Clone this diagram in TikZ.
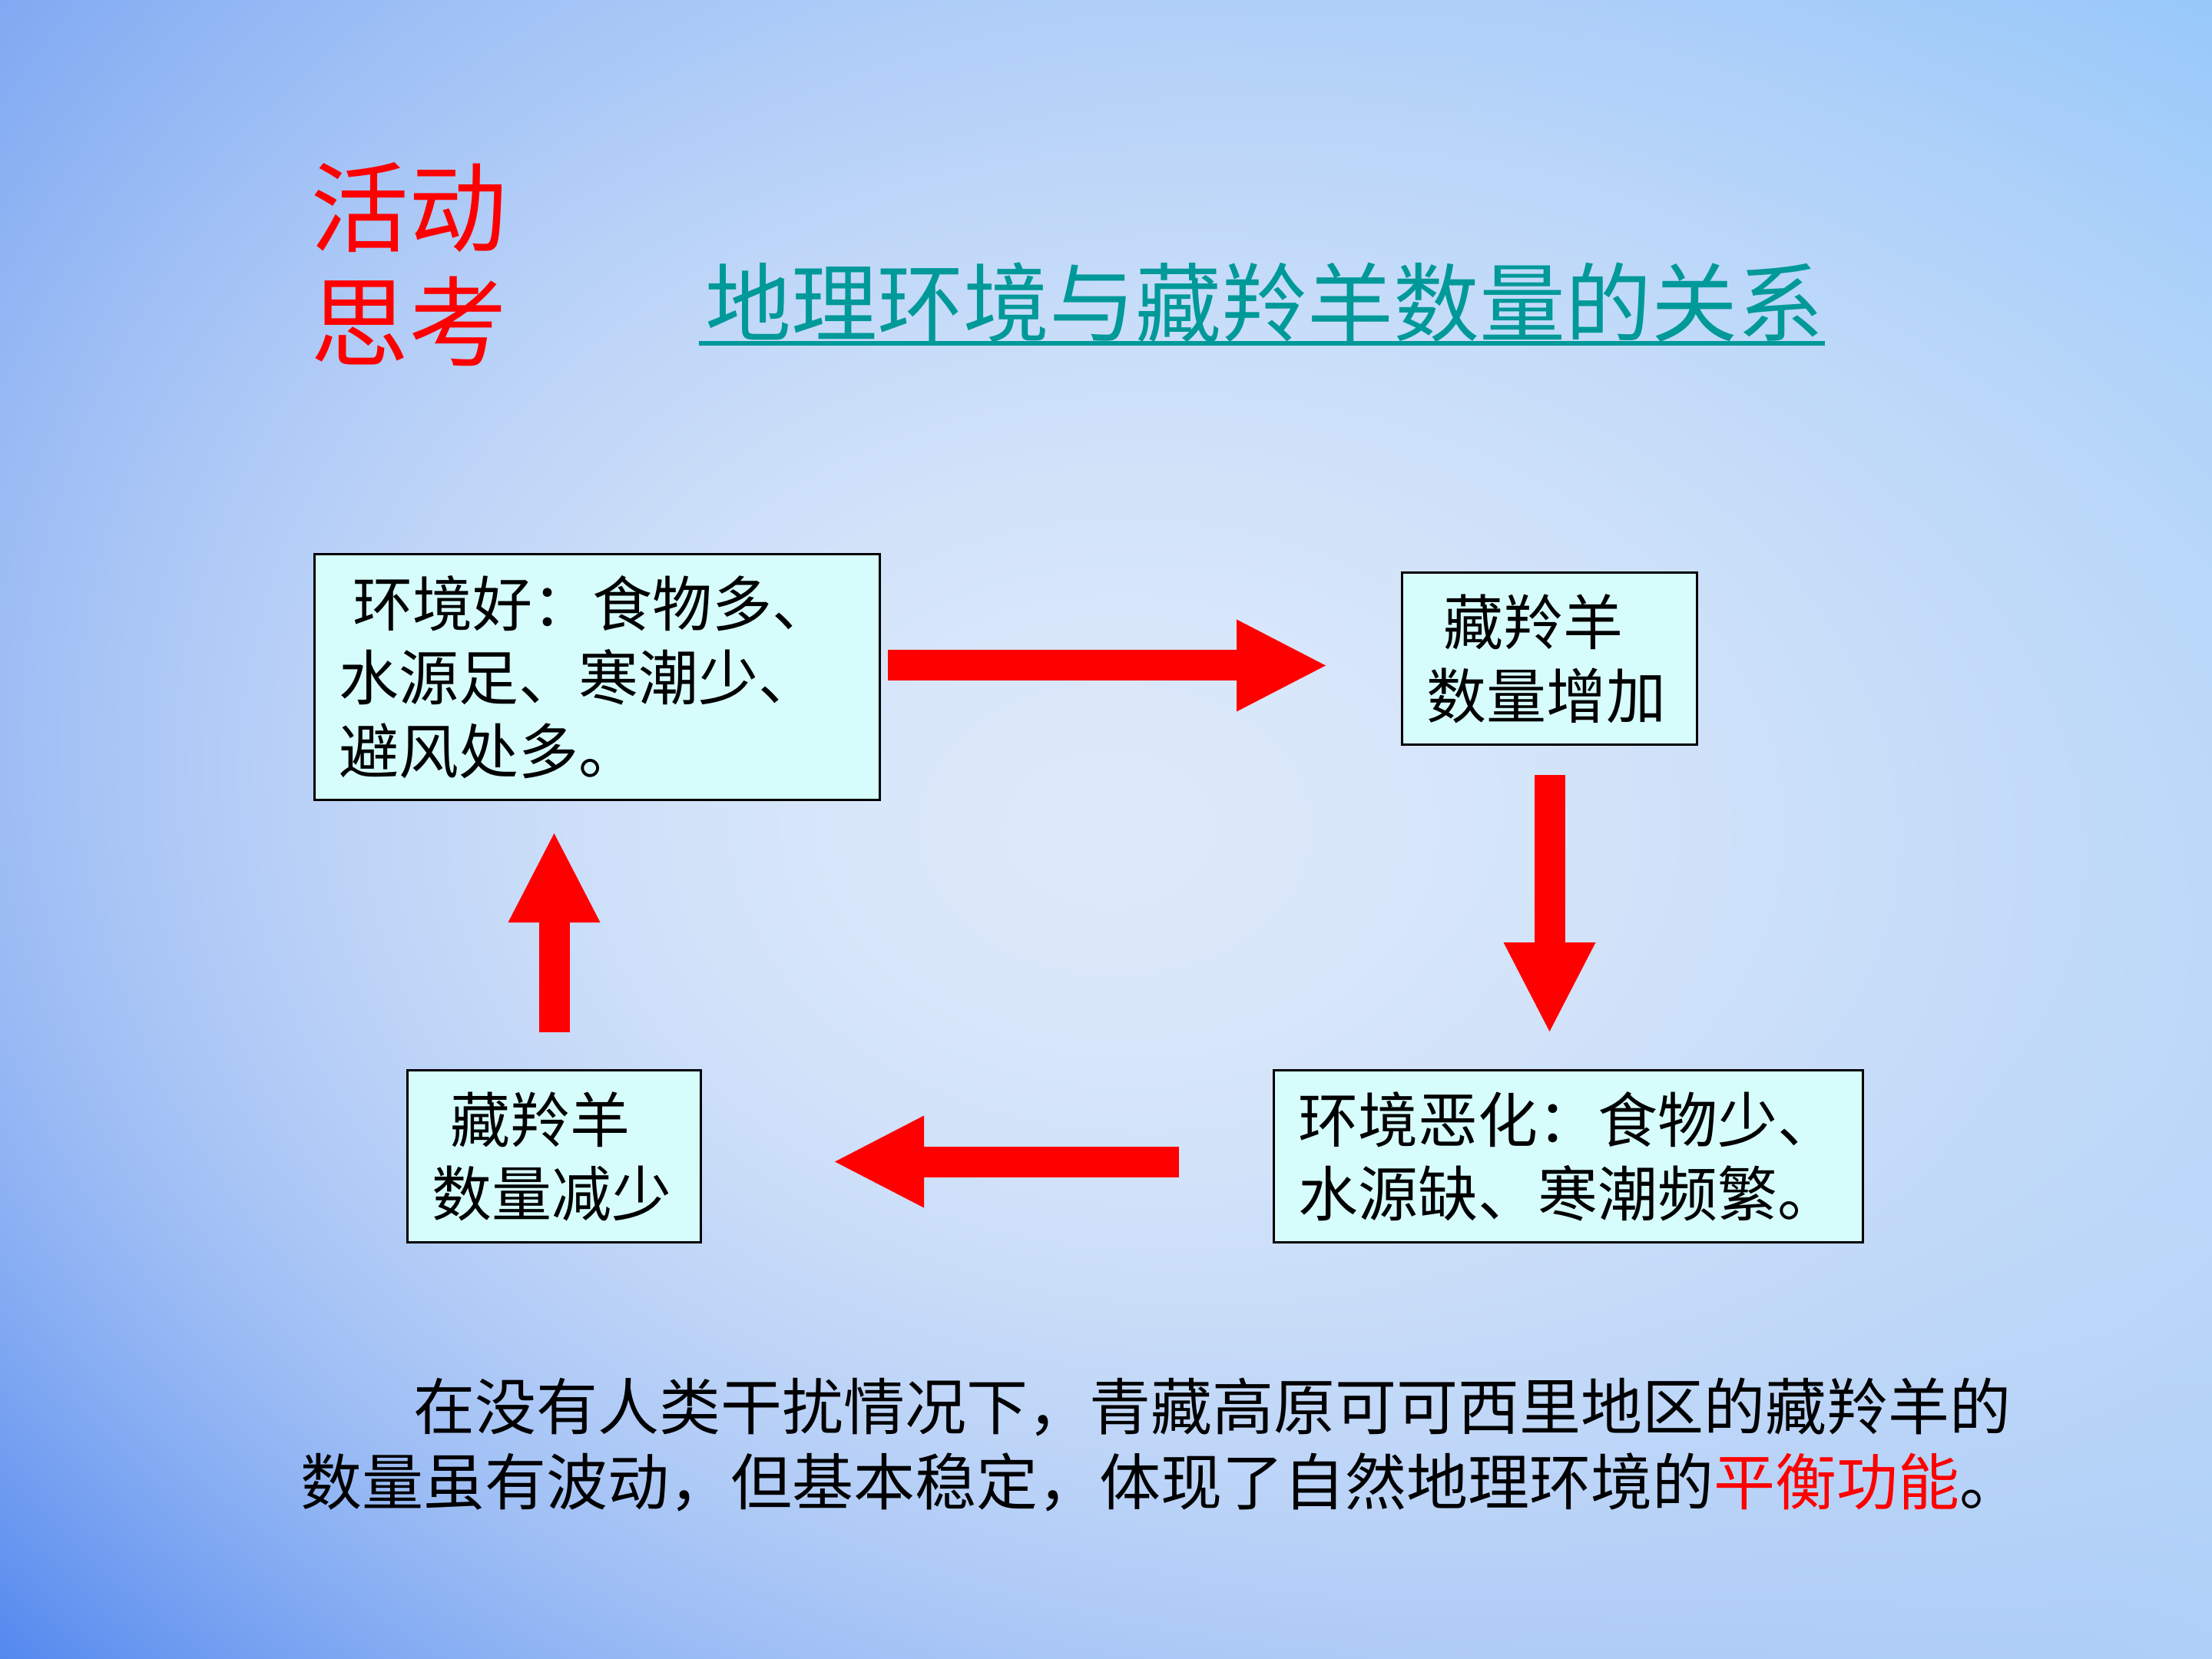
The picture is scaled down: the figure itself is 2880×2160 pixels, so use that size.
\documentclass[tikz,border=0pt]{standalone}
\usepackage{fontspec}
\newfontfamily\cjk{Noto Sans CJK SC}
\usetikzlibrary{arrows.meta}
\definecolor{boxfill}{HTML}{D7FCFC}
\definecolor{tealtitle}{HTML}{009999}
\pgfdeclarefunctionalshading{slidebg}{\pgfpoint{-50bp}{-50bp}}{\pgfpoint{50bp}{50bp}}{}{
  25 add 50 div exch 25 add 50 div exch
  1 index 2 mul 1 sub dup mul
  1 index 2 mul 1 sub dup mul
  add 2 div 0.85 exp
  2 index 0.361 mul 2 index 0.177 mul add 3 index 3 index mul -0.271 mul add 0.325 add 0.863 sub 1 index mul 0.863 add 4 1 roll
  2 index 0.279 mul 2 index 0.130 mul add 3 index 3 index mul -0.158 mul add 0.533 add 0.914 sub 1 index mul 0.914 add 4 1 roll
  2 index 0.036 mul 2 index 0.016 mul add 3 index 3 index mul -0.005 mul add 0.933 add 0.980 sub 1 index mul 0.980 add 4 1 roll
  pop pop pop
}
\tikzset{
  infobox/.style={draw=black, line width=0.75pt, fill=boxfill, inner ysep=0pt, inner xsep=8pt,
    align=left, anchor=north west, font=\cjk\fontsize{19.5}{24}\selectfont},
  bigarrow/.style={draw=red, line width=10pt, line cap=butt,
    -{Triangle[length=29pt,width=30pt,line width=0pt]}},
  bodytext/.style={anchor=base west, inner sep=0pt, font=\cjk\fontsize{20}{24}\selectfont}
}
\begin{document}
\begin{tikzpicture}[x=0.25pt,y=-0.25pt]
\shade[shading=slidebg] (0,0) rectangle (2880,2160);
\useasboundingbox (0,0) rectangle (2880,2160);

% headings
\node[anchor=base west, inner sep=0pt, text=red, font=\cjk\fontsize{32}{37}\selectfont] (act1) at (404,319) {活动};
\node[anchor=base west, inner sep=0pt, text=red, font=\cjk\fontsize{32}{37}\selectfont] (act2) at (404,468) {思考};
\node[anchor=base west, inner sep=0pt, text=tealtitle, font=\cjk\fontsize{28}{34}\selectfont] (title) at (918,437) {地理环境与藏羚羊数量的关系};
\draw[tealtitle, line width=1.3pt] ([xshift=-2pt,yshift=-2.5pt]title.base west) -- ([yshift=-2.5pt]title.base east);

% boxes
\node[infobox, text width=168pt, minimum height=80pt] (good) at (408,720)
  {\hspace*{4.5pt}环境好：食物多、\\水源足、寒潮少、\\避风处多。};
\node[infobox, text width=80pt, minimum height=56pt] (inc) at (1824,744)
  {\hspace*{5.5pt}藏羚羊\\数量增加};
\node[infobox, text width=175.75pt, minimum height=56pt] (bad) at (1657,1392)
  {环境恶化：食物少、\\水源缺、寒潮频繁。};
\node[infobox, text width=79.5pt, minimum height=56pt] (dec) at (529,1392)
  {\hspace*{6pt}藏羚羊\\数量减少};

% arrows
\draw[bigarrow, shorten <=2.25pt, shorten >=24.5pt]
  ([yshift=3.75pt]good.east) -- ([yshift=3.75pt]good.east -| inc.west);
\draw[bigarrow, shorten <=9.5pt, shorten >=12.25pt]
  (inc.south) -- (inc.south |- bad.north);
\draw[bigarrow, shorten <=30.5pt, shorten >=43.25pt]
  ([yshift=-1.75pt]bad.west) -- ([yshift=-1.75pt]bad.west -| dec.east);
\draw[bigarrow, shorten <=12pt, shorten >=10.5pt]
  (dec.north) -- (dec.north |- good.south);

% conclusion
\node[bodytext] (para1) at (538,1861) {在没有人类干扰情况下，青藏高原可可西里地区的藏羚羊的};
\node[bodytext] (para2) at (391,1959) {数量虽有波动，但基本稳定，体现了自然地理环境的\textcolor{red}{平衡功能}。};
\end{tikzpicture}
\end{document}
